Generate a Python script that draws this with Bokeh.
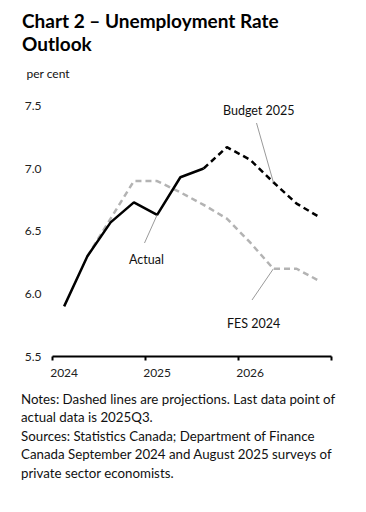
from bokeh.plotting import figure
from bokeh.models import FixedTicker, Label, Arrow, Range1d, Title
from bokeh.embed import file_html
from bokeh.resources import INLINE

# ---- data ----
quarters = list(range(12))                 # 2024Q1 .. 2026Q4
actual_q = [0, 1, 2, 3, 4, 5, 6]
actual = [5.9, 6.3, 6.57, 6.73, 6.63, 6.93, 7.0]
budget_q = [6, 7, 8, 9, 10, 11]
budget2025 = [7.0, 7.17, 7.07, 6.89, 6.72, 6.61]
fes_q = [1, 2, 3, 4, 5, 6, 7, 8, 9, 10, 11]
fes2024 = [6.3, 6.6, 6.9, 6.9, 6.81, 6.71, 6.6, 6.41, 6.2, 6.2, 6.1]

year_ticks = [0, 4, 8]
year_labels = ["2024", "2025", "2026"]
year_bounds = [-0.5, 3.5, 7.5, 11.5]
y_ticks = [5.5, 6.0, 6.5, 7.0, 7.5]
y_tick_labels = ["5.5", "6.0", "6.5", "7.0", "7.5"]

title_lines = ["Chart 2 \u2013 Unemployment Rate", "Outlook"]
unit_label = "per cent"
note_lines = [
    "Notes: Dashed lines are projections. Last data point of",
    "actual data is 2025Q3.",
    "Sources: Statistics Canada; Department of Finance",
    "Canada September 2024 and August 2025 surveys of",
    "private sector economists.",
]

FONT = "Lato"

p = figure(frame_width=279, frame_height=259, output_backend="svg",
           toolbar_location=None,
           x_range=Range1d(-0.5, 11.5), y_range=Range1d(5.5, 7.5665),
           min_border_left=52, min_border_right=27, min_border_top=0,
           min_border_bottom=0)
p.outline_line_color = None
p.xgrid.visible = False
p.ygrid.visible = False
p.background_fill_color = "white"
p.border_fill_color = "white"

# lines
p.line(fes_q, fes2024, line_color="#b3b3b3", line_width=2.5, line_dash="6 4")
p.line(budget_q, budget2025, line_color="black", line_width=2.5, line_dash="6 4")
p.line(actual_q, actual, line_color="black", line_width=2.5)

# axes
xa = p.xaxis[0]
xa.ticker = FixedTicker(ticks=year_ticks, minor_ticks=year_bounds)
xa.major_label_overrides = {t: l for t, l in zip(year_ticks, year_labels)}
xa.major_tick_line_color = None
xa.major_tick_out = 0
xa.major_tick_in = 0
xa.minor_tick_line_color = "black"
xa.minor_tick_line_width = 2
xa.minor_tick_out = 4
xa.minor_tick_in = 0
xa.axis_line_color = "black"
xa.axis_line_width = 2
xa.major_label_standoff = 8
xa.major_label_text_font = FONT
xa.major_label_text_font_size = "12px"
xa.major_label_text_color = "#222222"

ya = p.yaxis[0]
ya.ticker = FixedTicker(ticks=y_ticks)
ya.major_label_overrides = {t: l for t, l in zip(y_ticks, y_tick_labels)}
ya.axis_line_color = None
ya.major_tick_line_color = None
ya.minor_tick_line_color = None
ya.major_tick_out = 0
ya.major_tick_in = 0
ya.major_label_standoff = 11
ya.major_label_text_font = FONT
ya.major_label_text_font_size = "12px"
ya.major_label_text_color = "#222222"

def title(s, where, size, offset, standoff, bold=False, color="#111111"):
    p.add_layout(Title(text=s, align="left", offset=offset, standoff=standoff,
                       text_font=FONT, text_font_size=size,
                       text_font_style="bold" if bold else "normal",
                       text_color=color), where)

# above: first added is nearest the frame
title(unit_label, "above", "12px", -26, 33.1)
title(title_lines[1], "above", "19px", -30.5, -14.9, bold=True, color="black")
title(title_lines[0], "above", "19px", -30.5, 11.9, bold=True, color="black")
note_standoffs = [18.9, -17.82, 18.9, -17.82, 18.9]
for s, so in zip(note_lines, note_standoffs):
    title(s, "below", "13.3px", -31.5, so)

def txt(s, x, y, size):
    p.add_layout(Label(x=x, y=y, x_units="screen", y_units="screen", text=s,
                       text_font=FONT, text_font_size=size, text_color="#111111",
                       text_baseline="alphabetic", text_align="left"))

# series annotations with leader lines
txt("Budget 2025", 170.5, 246, "12.5px")
txt("Actual", 76.5, 97.5, "12.5px")
txt("FES 2024", 174.5, 33.5, "12.5px")

def leader(sx, sy, qx, val):
    p.add_layout(Arrow(end=None, x_start=sx, y_start=sy, start_units="screen",
                       x_end=qx, y_end=val, end_units="data",
                       line_color="#9a9a9a", line_width=1))

leader(204, 233.5, budget_q[3], budget2025[3])
leader(92, 113.5, actual_q[4], actual[4])
leader(199.5, 56.5, fes_q[8], fes2024[8])

open("out.html", "w").write(file_html(p, INLINE))
